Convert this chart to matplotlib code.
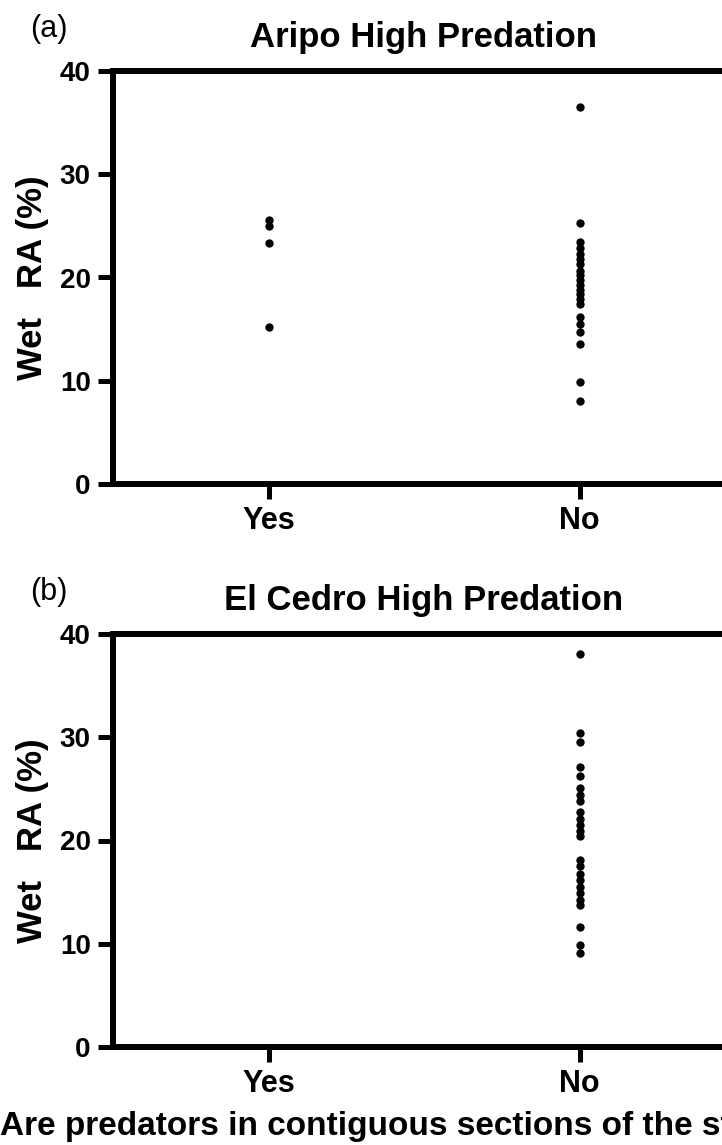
import numpy as np
import matplotlib.pyplot as plt

# Wet RA (%) values
categories = ['Yes', 'No']

aripo_yes = [25.6, 25.0, 23.3, 15.2]
aripo_no = [36.5, 25.3, 23.4, 22.9, 22.3, 21.8, 21.3, 20.6, 20.2, 19.8, 19.3,
            18.8, 18.4, 17.9, 17.4, 16.2, 15.5, 14.75, 13.6, 9.9, 8.0]

cedro_yes = []
cedro_no = [38.1, 30.4, 29.5, 27.1, 26.2, 25.1, 24.4, 23.8, 22.8, 22.1, 21.5,
            20.9, 20.4, 18.1, 17.5, 16.8, 16.2, 15.5, 14.9, 14.2, 13.75, 11.6,
            9.9, 9.1]

yticks = [0, 10, 20, 30, 40]

plt.rcParams['font.family'] = ['Liberation Sans', 'DejaVu Sans']
plt.rcParams['font.weight'] = 'bold'

W, H = 722, 1145
fig = plt.figure(figsize=(W / 100, H / 100), dpi=100)


def draw_panel(ax, yes_vals, no_vals, title):
    for i, vals in enumerate([yes_vals, no_vals]):
        if len(vals) == 0:
            continue
        ax.plot(np.full(len(vals), i), vals, 'o', color='black', ms=6,
                mew=0, clip_on=False)
    ax.set_xlim(-0.5, 1.5)
    ax.set_ylim(0, 40)
    ax.set_yticks(yticks)
    ax.set_xticks(range(len(categories)))
    ax.set_xticklabels(categories, fontsize=22, fontweight='bold')
    ax.tick_params(axis='y', labelsize=20, pad=5)
    ax.tick_params(axis='both', direction='out', length=11, width=3.6,
                   color='black')
    ax.tick_params(axis='x', pad=5)
    for side in ['left', 'bottom', 'top']:
        ax.spines[side].set_linewidth(4.3)
    ax.spines['right'].set_visible(False)
    ax.set_title(title, fontsize=25, fontweight='bold', pad=17)
    ax.set_ylabel('Wet   RA (%)', fontsize=25, fontweight='bold')
    ax.yaxis.set_label_coords(-0.103, 0.5)


# axes run past the right edge of the figure, as in the cropped original
ax_a = fig.add_axes([113 / W, 1 - 484 / H, 622 / W, 413 / H])
ax_b = fig.add_axes([113 / W, 1 - 1047 / H, 622 / W, 413 / H])

draw_panel(ax_a, aripo_yes, aripo_no, 'Aripo High Predation')
draw_panel(ax_b, cedro_yes, cedro_no, 'El Cedro High Predation')

fig.text(30 / W, 1 - 37 / H, '(a)', fontsize=22, fontweight='normal',
         ha='left', va='baseline')
fig.text(30 / W, 1 - 600 / H, '(b)', fontsize=22, fontweight='normal',
         ha='left', va='baseline')

fig.text(0.0, 1 - 1135 / H,
         'Are predators in contiguous sections of the stream present?',
         fontsize=24, fontweight='bold', ha='left', va='baseline')

fig.savefig('out.png', dpi=100)
